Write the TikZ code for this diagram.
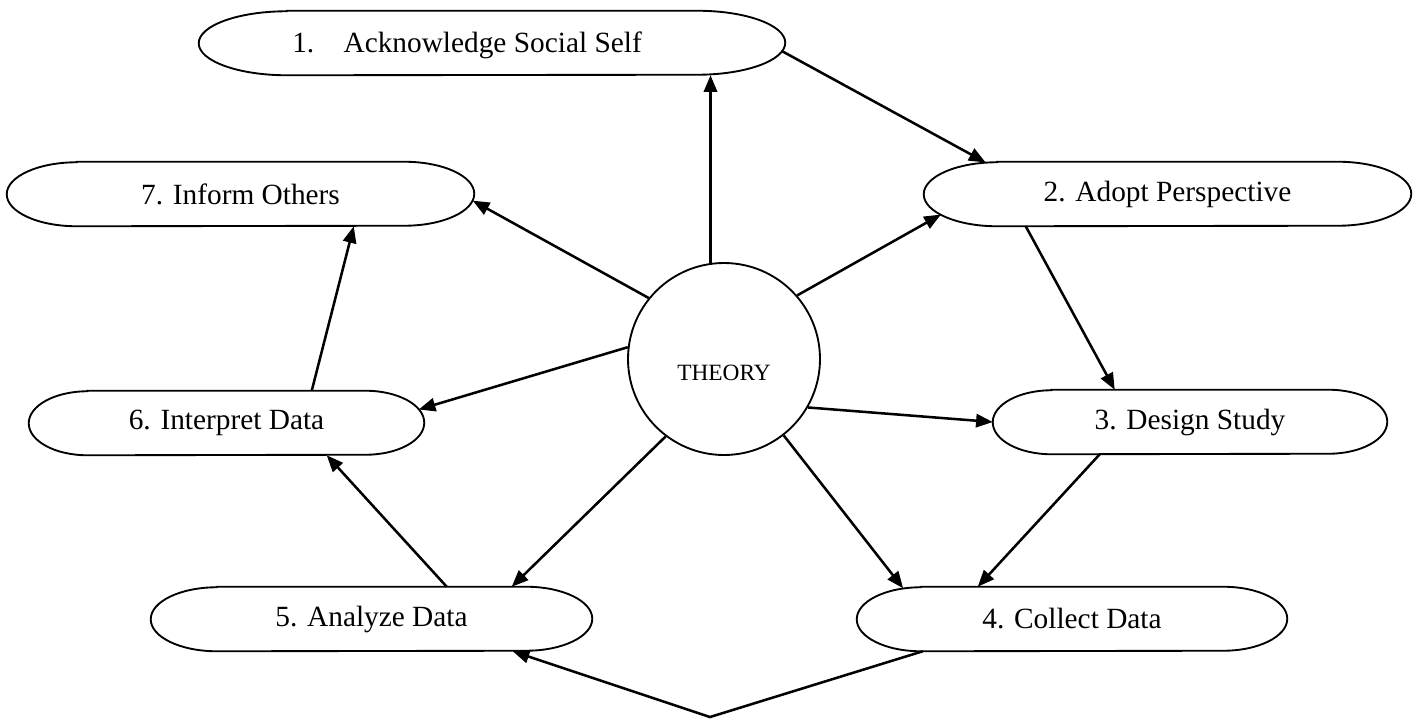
\documentclass[tikz,border=0pt]{standalone}
\usepackage{fontspec}
\setmainfont{Liberation Serif}
\usetikzlibrary{arrows.meta,calc}
\def\HH{24pt}
\tikzset{
  stepframe/.style={draw=none,inner sep=0pt,minimum height=48pt},
  steptext/.style={font=\fontsize{22}{26}\selectfont},
  outline/.style={line width=1.4pt},
  conn/.style={line width=1.9pt,-{Triangle[length=12.5pt,width=10pt]}},
}
% #1 node name, #2 end radius
\newcommand\stadium[2]{%
  \draw[outline] ([xshift=#2]#1.north west) -- ([xshift=-#2]#1.north east)
    arc[start angle=90,end angle=-90,x radius=#2,y radius=\HH]
    -- ([xshift=#2]#1.south west)
    arc[start angle=270,end angle=90,x radius=#2,y radius=\HH] -- cycle;}
\begin{document}
\begin{tikzpicture}[x=0.75pt,y=-0.75pt]
\useasboundingbox (0,0) rectangle (1417,718);
% step nodes
\node[stepframe,minimum width=586*0.75pt,label={[steptext,xshift=-25*0.75pt,yshift=-2pt]center:1.\hspace{1em}Acknowledge Social Self}] (n1) at (492,43) {};
\node[stepframe,minimum width=467*0.75pt,label={[steptext]center:7. Inform Others}] (n7) at (240.5,194) {};
\node[stepframe,minimum width=487*0.75pt,label={[steptext]center:2. Adopt Perspective}] (n2) at (1167.5,194) {};
\node[stepframe,minimum width=395*0.75pt,label={[steptext]center:6. Interpret Data}] (n6) at (226.5,423) {};
\node[stepframe,minimum width=394*0.75pt,label={[steptext]center:3. Design Study}] (n3) at (1190,422) {};
\node[stepframe,minimum width=441*0.75pt,label={[steptext]center:5. Analyze Data}] (n5) at (371.5,619) {};
\node[stepframe,minimum width=430*0.75pt,label={[steptext]center:4. Collect Data}] (n4) at (1072,619) {};
\stadium{n1}{66pt}
\stadium{n2}{55pt}
\stadium{n7}{52.5pt}
\stadium{n3}{44pt}
\stadium{n6}{44pt}
\stadium{n5}{49.5pt}
\stadium{n4}{48pt}
% theory
\node[circle,draw,line width=1.4pt,minimum size=144pt,inner sep=0pt,
  label={[font=\fontsize{17.5}{20}\selectfont,yshift=-10.5pt]center:THEORY}] (th) at (724,359) {};
% anchor points on outlines
\coordinate (n1r) at ($(n1.east)+(-66pt,0pt)+(-15:66pt and 24pt)$);
\coordinate (n2t) at ($(n2.west)+(55pt,0pt)+(99:55pt and 24pt)$);
\coordinate (n2l) at ($(n2.west)+(55pt,0pt)+(220:55pt and 24pt)$);
\coordinate (n7r) at ($(n7.east)+(-52.5pt,0pt)+(-12:52.5pt and 24pt)$);
\coordinate (n6r) at ($(n6.east)+(-44pt,0pt)+(25:44pt and 24pt)$);
\coordinate (n4tl) at ($(n4.west)+(48pt,0pt)+(106:48pt and 24pt)$);
\coordinate (v) at (710,717);
% connectors
\draw[conn] (th.98) -- (th.98 |- n1.south);
\draw[conn] (n1r) -- (n2t);
\draw[conn] (th.41) -- (n2l);
\draw[conn] (th.141) -- (n7r);
\draw[conn] ([xshift=102*0.75pt]n2.south west) -- ([xshift=122*0.75pt]n3.north west);
\draw[conn] (th.-30) -- (n3.west);
\draw[conn] (th.173) -- (n6r);
\draw[conn] ([xshift=283*0.75pt]n6.north west) -- ([xshift=347*0.75pt]n7.south west);
\draw[conn] ([xshift=296*0.75pt]n5.north west) -- ([xshift=298*0.75pt]n6.south west);
\draw[conn] (th.233) -- ([xshift=361*0.75pt]n5.north west);
\draw[conn] (th.-52) -- (n4tl);
\draw[conn] ([xshift=107*0.75pt]n3.south west) -- ([xshift=121*0.75pt]n4.north west);
\draw[conn] ([xshift=66*0.75pt]n4.south west) -- (v) -- ([xshift=362*0.75pt]n5.south west);
\end{tikzpicture}
\end{document}
